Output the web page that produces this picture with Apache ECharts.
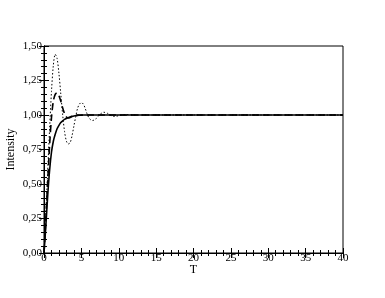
<!DOCTYPE html>
<html>
<head>
<meta charset="utf-8">
<script src="https://cdn.jsdelivr.net/npm/echarts@6/dist/echarts.min.js"></script>
<style>
  html, body { margin: 0; padding: 0; background: #fff; }
  #chart1 { width: 385px; height: 298px; }
</style>
</head>
<body>
<div id="chart1"></div>
<script>
// time axis (T) and the three responses
var tValues = [0, 0.25, 0.5, 0.75, 1, 1.25, 1.5, 1.75, 2, 2.25, 2.5, 2.75, 3, 3.25, 3.5, 3.75, 4, 4.25, 4.5, 4.75,
    5, 5.25, 5.5, 5.75, 6, 6.25, 6.5, 6.75, 7, 7.25, 7.5, 7.75, 8, 8.5, 9, 9.5, 10, 10.5, 11, 12, 14, 20, 30, 40];

var solidValues = [0, 0.2, 0.42, 0.6, 0.73, 0.81, 0.86, 0.9, 0.925, 0.945, 0.958, 0.968, 0.975, 0.981, 0.986, 0.99, 0.993, 0.995, 0.997, 0.998,
    0.999, 1, 1, 1, 1, 1, 1, 1, 1, 1, 1, 1, 1, 1, 1, 1, 1, 1, 1, 1, 1, 1, 1, 1];

var dashedValues = [0, 0.25, 0.52, 0.78, 0.98, 1.1, 1.15, 1.16, 1.14, 1.1, 1.05, 1.01, 0.985, 0.978, 0.982, 0.99, 0.995, 0.998, 1, 1,
    1, 1, 1, 1, 1, 1, 1, 1, 1, 1, 1, 1, 1, 1, 1, 1, 1, 1, 1, 1, 1, 1, 1, 1];

var dottedValues = [0, 0.28, 0.6, 0.9, 1.17, 1.36, 1.44, 1.41, 1.3, 1.15, 1.0, 0.88, 0.81, 0.79, 0.8, 0.85, 0.92, 0.99, 1.05, 1.08,
    1.09, 1.08, 1.05, 1.01, 0.98, 0.965, 0.96, 0.965, 0.975, 0.99, 1.005, 1.015, 1.02, 1.012, 0.995, 0.99, 0.995, 1.0, 1.003, 1.0, 1.0, 1.0, 1.0, 1.0];

function pairs(vals) {
  return tValues.map(function (t, i) { return [t, vals[i]]; });
}

var chart1 = echarts.init(document.getElementById('chart1'));

var serif = '"Liberation Serif", "DejaVu Serif", serif';
var tickLine = { show: true, inside: true, length: 5, lineStyle: { color: '#000', width: 1 } };
var minorLine = { show: true, splitNumber: 5, length: -3, lineStyle: { color: '#000', width: 1 } };

var option1 = {
    animation: false,
    backgroundColor: '#fff',
    grid: {
        left: 44, right: 42, top: 46, bottom: 45,
        containLabel: false, outerBoundsMode: 'none',
        show: true, borderColor: '#000', borderWidth: 1
    },
    xAxis: [
        {
            type: 'value', min: 0, max: 40, interval: 5,
            name: 'T', nameLocation: 'middle', nameGap: 11, nameMoveOverlap: false,
            nameTextStyle: { fontFamily: serif, fontSize: 12, color: '#000', verticalAlign: 'top' },
            axisLine: { show: true, lineStyle: { color: '#000', width: 1 } },
            axisTick: tickLine,
            minorTick: minorLine,
            axisLabel: { fontFamily: serif, fontSize: 11, color: '#000', margin: 0 },
            splitLine: { show: false }
        },
        {
            type: 'value', min: 0, max: 40, interval: 5, position: 'top',
            axisLine: { show: true, lineStyle: { color: '#000', width: 1 } },
            axisTick: tickLine,
            minorTick: minorLine,
            axisLabel: { show: false },
            splitLine: { show: false }
        }
    ],
    yAxis: [
        {
            type: 'value', min: 0, max: 1.5, interval: 0.25,
            name: 'Intensity', nameLocation: 'middle', nameGap: 27, nameRotate: 90, nameMoveOverlap: false,
            nameTextStyle: { fontFamily: serif, fontSize: 12, color: '#000' },
            axisLine: { show: true, lineStyle: { color: '#000', width: 1 } },
            axisTick: tickLine,
            minorTick: minorLine,
            axisLabel: {
                fontFamily: serif, fontSize: 11, color: '#000', margin: 2,
                formatter: function (v) { return v.toFixed(2).replace('.', ','); }
            },
            splitLine: { show: false }
        },
        {
            type: 'value', min: 0, max: 1.5, interval: 0.25, position: 'right',
            axisLine: { show: true, lineStyle: { color: '#000', width: 1 } },
            axisTick: tickLine,
            minorTick: minorLine,
            axisLabel: { show: false },
            splitLine: { show: false }
        }
    ],
    series: [
        {
            name: 'solid', type: 'line', smooth: 0.3, showSymbol: false,
            data: pairs(solidValues),
            lineStyle: { color: '#000', width: 1.6, type: 'solid' }
        },
        {
            name: 'dashed', type: 'line', smooth: 0.3, showSymbol: false,
            data: pairs(dashedValues),
            lineStyle: { color: '#000', width: 1.6, type: [7, 4] }
        },
        {
            name: 'dotted', type: 'line', smooth: 0.3, showSymbol: false,
            data: pairs(dottedValues),
            lineStyle: { color: '#000', width: 1, type: [1.5, 2] }
        }
    ]
};

chart1.setOption(option1);

window.onresize = function () {
  chart1.resize();
};
</script>
</body>
</html>
